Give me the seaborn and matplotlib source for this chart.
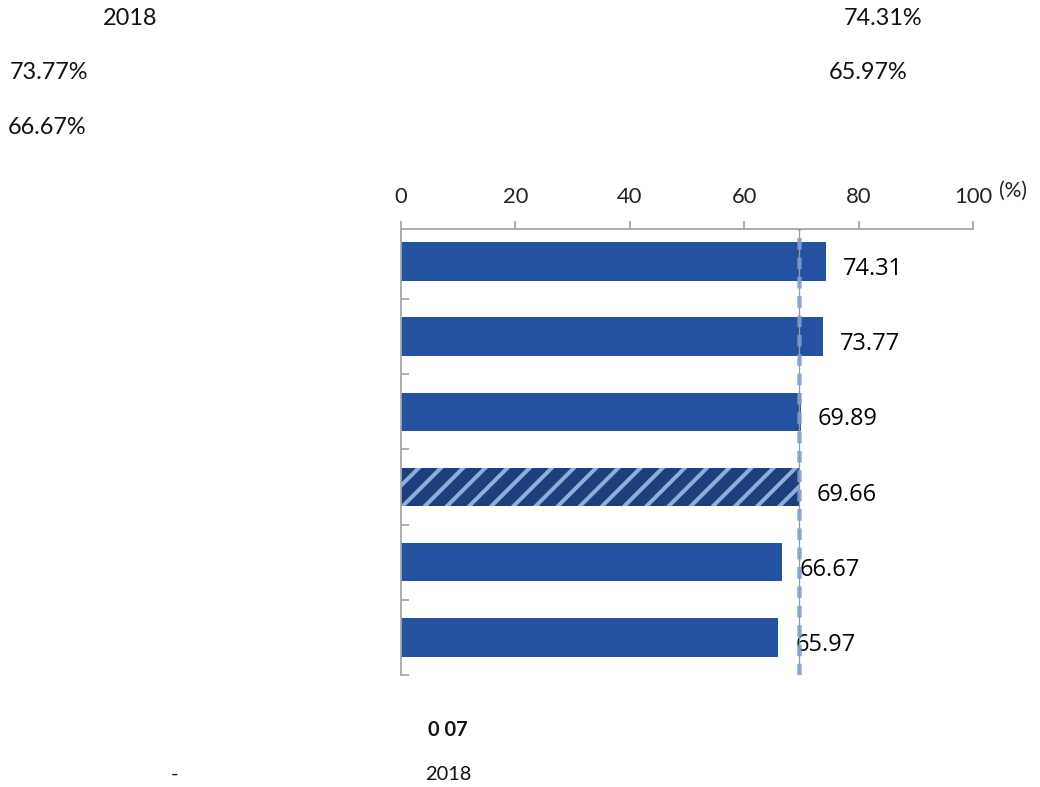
import matplotlib
matplotlib.use("Agg")
import matplotlib.pyplot as plt
import seaborn as sns
import pandas as pd

# Share of respondents (%) by group, top to bottom
categories = ["g1", "g2", "g3", "g4", "g5", "g6"]
values = [74.31, 73.77, 69.89, 69.66, 66.67, 65.97]
highlight = "g4"          # overall reference group, drawn hatched
reference_value = 69.66   # dashed reference line
x_ticks = [0, 20, 40, 60, 80, 100]

header_texts = [("2018", 0.125, 0.977), ("74.31%", 0.849, 0.977),
                ("73.77%", 0.047, 0.908), ("65.97%", 0.835, 0.908),
                ("66.67%", 0.045, 0.838)]

DPI = 1040 / 7.8


def pt(px):
    """Convert a size in output pixels to points."""
    return px * 72.0 / DPI


sns.set_theme(style="white")
plt.rcParams["font.family"] = ["Lato", "DejaVu Sans"]
plt.rcParams["hatch.linewidth"] = pt(4.0)

BLUE = "#2452a0"
NAVY = "#1d3f7e"
STRIPE = "#8eaedb"
GRAY = "#a6a6a6"

df = pd.DataFrame({"group": categories, "value": values})

fig = plt.figure(figsize=(7.8, 787 / DPI), dpi=DPI)
ax = fig.add_axes([0.3856, 0.1423, 0.55, 0.5667])

palette = {c: (NAVY if c == highlight else BLUE) for c in categories}
sns.barplot(data=df, y="group", x="value", hue="group", palette=palette,
            order=categories, orient="h", width=0.51, legend=False,
            saturation=1, ax=ax, linewidth=0)

for patch, cat in zip(ax.patches, categories):
    if cat == highlight:
        patch.set_hatch("//")
        patch.set_edgecolor(STRIPE)
        patch.set_linewidth(0)

# value labels
for i, v in enumerate(values):
    ax.annotate(f"{v:.2f}", xy=(v, i + 0.1), xytext=(pt(17), 0),
                textcoords="offset points", va="center", ha="left",
                fontsize=pt(23.5), fontfamily=["Open Sans", "DejaVu Sans"],
                color="#000000")

# reference line
ax.axvline(reference_value, color="#9a9a9a", lw=pt(1.3), zorder=4)
ax.axvline(reference_value, color="#7f9dd0", lw=pt(4.5), alpha=0.85,
           dashes=(2.6, 1.7), zorder=5)

ax.set_xlim(0, 100)
ax.set_ylim(5.5, -0.43)
ax.xaxis.tick_top()
ax.set_xticks(x_ticks)
ax.set_xticklabels([str(t) for t in x_ticks], fontsize=pt(22),
                   color="#222222")
ax.tick_params(axis="x", which="major", direction="out", length=pt(8),
               width=pt(1.8), color=GRAY, pad=pt(14), top=True, bottom=False)
ax.set_yticks([])
ax.set_yticks([i + 0.5 for i in range(len(categories))], minor=True)
ax.tick_params(axis="y", which="minor", direction="in", length=pt(8),
               width=pt(1.8), color=GRAY, left=True)
ax.set_xlabel("")
ax.set_ylabel("")

for side in ["right", "bottom"]:
    ax.spines[side].set_visible(False)
for side in ["top", "left"]:
    ax.spines[side].set_color(GRAY)
    ax.spines[side].set_linewidth(pt(1.8))

fig.text(0.961, 0.757, "(%)", fontsize=pt(21), ha="left", va="center",
         color="#222222")

for txt, x, y in header_texts:
    fig.text(x, y, txt, fontsize=pt(23.5), ha="center", va="center",
             color="#111111")

fig.text(0.431, 0.072, "0 07", fontsize=pt(20), fontweight="bold",
         ha="center", va="center", color="#111111")
fig.text(0.168, 0.016, "-", fontsize=pt(20), ha="center", va="center",
         color="#111111")
fig.text(0.431, 0.016, "2018", fontsize=pt(20), ha="center", va="center",
         color="#111111")

fig.savefig("out.png", dpi=DPI, facecolor="white")
